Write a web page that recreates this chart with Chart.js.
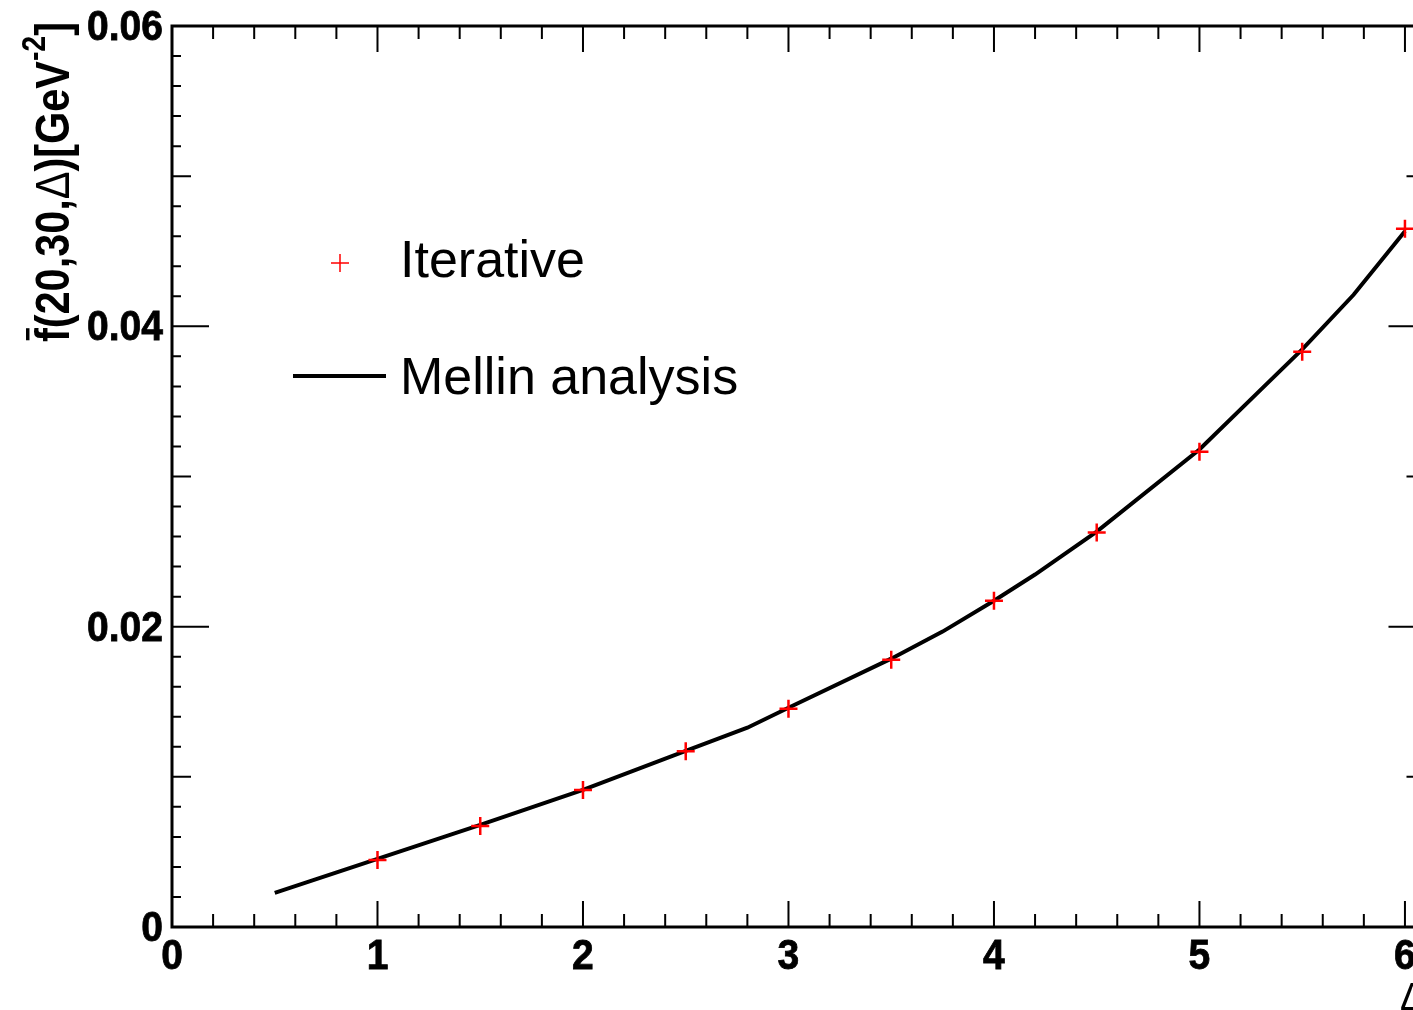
<!DOCTYPE html>
<html>
<head>
<meta charset="utf-8">
<script src="https://cdn.jsdelivr.net/npm/chart.js@4/dist/chart.umd.min.js"></script>
<style>
html, body { margin: 0; padding: 0; overflow: hidden; background: #fff; }
canvas { display: block; }
</style>
</head>
<body>
<canvas id="grafica" width="1440" height="1010"></canvas>
<script>
// Iterative (red crosses)
const iterX = [1, 1.5, 2, 2.5, 3, 3.5, 4, 4.5, 5, 5.5, 6];
const iterY = [0.00447, 0.00673, 0.00912, 0.0117, 0.01453, 0.0178, 0.02173, 0.02627, 0.03165, 0.0383, 0.0465];

// Mellin analysis (black curve)
const mellinX = [0.5, 1, 1.5, 2, 2.5, 2.8, 3, 3.5, 3.75, 4, 4.2, 4.5, 5, 5.3, 5.5, 5.75, 6];
const mellinY = [0.00227, 0.00453, 0.0068, 0.00913, 0.01173, 0.01327, 0.0146, 0.01787, 0.01967, 0.02173, 0.02347, 0.02633, 0.0318, 0.0358, 0.03847, 0.0421, 0.04633];

// axis ticks
const xTicks = [0, 1, 2, 3, 4, 5, 6];
const xTickLabels = ['0', '1', '2', '3', '4', '5', '6'];
const yTicks = [0, 0.02, 0.04, 0.06];
const yTickLabels = ['0', '0.02', '0.04', '0.06'];

const ctx = document.getElementById('grafica').getContext('2d');

// text a bit narrower, like the ROOT Helvetica
function texto(c, str, x, y, align, sx) {
    c.save()
    c.translate(x, y)
    c.scale(sx, 1)
    c.textAlign = align
    c.fillText(str, 0, 0)
    c.lineWidth = 0.8
    c.strokeText(str, 0, 0)
    c.restore()
}

const ejes = {
    id: 'ejes',
    afterDraw(chart) {
        const c = chart.ctx
        const a = chart.chartArea
        const xs = chart.scales.x
        const ys = chart.scales.y
        c.save()
        c.strokeStyle = '#000'
        c.fillStyle = '#000'

        // frame
        c.lineWidth = 3
        c.strokeRect(a.left, a.top, a.right - a.left, a.bottom - a.top)

        // x ticks, bottom and top
        c.lineWidth = 2
        for (let i = 0; i <= 30; i++) {
            const v = i * 0.2
            if (v > xs.max) break
            const px = xs.getPixelForValue(v)
            const len = (i % 5 === 0) ? 26 : 13
            c.beginPath()
            c.moveTo(px, a.bottom); c.lineTo(px, a.bottom - len)
            c.moveTo(px, a.top); c.lineTo(px, a.top + len)
            c.stroke()
        }
        // y ticks, left and right
        for (let i = 0; i <= 30; i++) {
            const v = i * 0.002
            const py = ys.getPixelForValue(v)
            let len = 9
            if (i % 10 === 0) len = 37
            else if (i % 5 === 0) len = 19
            c.beginPath()
            c.moveTo(a.left, py); c.lineTo(a.left + len, py)
            c.moveTo(a.right, py); c.lineTo(a.right - len, py)
            c.stroke()
        }

        // tick labels
        c.font = 'bold 42px "Liberation Sans", Arial, sans-serif'
        c.textBaseline = 'alphabetic'
        xTicks.forEach((v, i) => {
            texto(c, xTickLabels[i], xs.getPixelForValue(v), 969, 'center', 0.93)
        })
        yTicks.forEach((v, i) => {
            texto(c, yTickLabels[i], a.left - 9, ys.getPixelForValue(v) + 14, 'right', 0.93)
        })

        // x title
        c.font = '38px "Liberation Sans", Arial, sans-serif'
        c.textAlign = 'right'
        c.fillText('\u0394', a.right, 1010)

        // y title (rotated)
        c.save()
        c.translate(69, 342)
        c.rotate(-Math.PI / 2)
        c.textAlign = 'left'
        const s = 48
        const bold = n => 'bold ' + n + 'px "Liberation Sans", Arial, sans-serif'
        const partes = [
            { t: 'f', f: bold(s), dy: 0, bar: true },
            { t: '(20,30,', f: bold(s), dy: 0 },
            { t: '\u0394', f: s + 'px "Liberation Sans", Arial, sans-serif', dy: 0 },
            { t: ')[GeV', f: bold(s), dy: 0 },
            { t: '-2', f: bold(Math.round(s * 0.68)), dy: -s * 0.5 },
            { t: ']', f: bold(s), dy: 0 }
        ]
        let total = 0
        partes.forEach(p => { c.font = p.f; total += c.measureText(p.t).width })
        const k = 320 / total
        c.scale(k, 1)
        let x = 0
        partes.forEach(p => {
            c.font = p.f
            const w = c.measureText(p.t).width
            c.fillText(p.t, x, p.dy)
            if (p.bar) {
                c.lineWidth = 3.5
                c.beginPath()
                c.moveTo(x + 2, -s * 0.86); c.lineTo(x + w, -s * 0.86)
                c.stroke()
            }
            x += w
        })
        c.restore()

        // legend
        const dsI = chart.data.datasets[0]
        const dsM = chart.data.datasets[1]
        c.strokeStyle = dsI.borderColor
        c.lineWidth = 1.5
        c.beginPath()
        c.moveTo(331, 263); c.lineTo(349, 263)
        c.moveTo(340, 254); c.lineTo(340, 272)
        c.stroke()
        c.strokeStyle = dsM.borderColor
        c.lineWidth = 4
        c.beginPath()
        c.moveTo(293, 376); c.lineTo(386, 376)
        c.stroke()
        c.font = '52px "Liberation Sans", Arial, sans-serif'
        c.textAlign = 'left'
        c.fillText(dsI.label, 400, 277)
        c.fillText(dsM.label, 400, 394)

        c.restore()
    }
}

new Chart(ctx, {
    type: 'scatter',
    data: {
        datasets: [{
            label: 'Iterative',
            data: iterX.map((x, i) => ({ x: x, y: iterY[i] })),
            pointStyle: 'cross',
            pointRadius: 9,
            pointBorderWidth: 2.5,
            borderColor: '#ff0000',
            backgroundColor: '#ff0000',
            showLine: false
        }, {
            label: 'Mellin analysis',
            data: mellinX.map((x, i) => ({ x: x, y: mellinY[i] })),
            showLine: true,
            pointRadius: 0,
            borderColor: '#000000',
            borderWidth: 4,
            tension: 0
        }]
    },
    options: {
        responsive: false,
        animation: false,
        devicePixelRatio: 1,
        layout: { padding: { left: 172, top: 26, right: 14.5, bottom: 83 } },
        plugins: { legend: { display: false }, tooltip: { enabled: false } },
        scales: {
            x: { type: 'linear', min: 0, max: 6.1, display: false },
            y: { type: 'linear', min: 0, max: 0.06, display: false }
        }
    },
    plugins: [ejes]
});
</script>
</body>
</html>
